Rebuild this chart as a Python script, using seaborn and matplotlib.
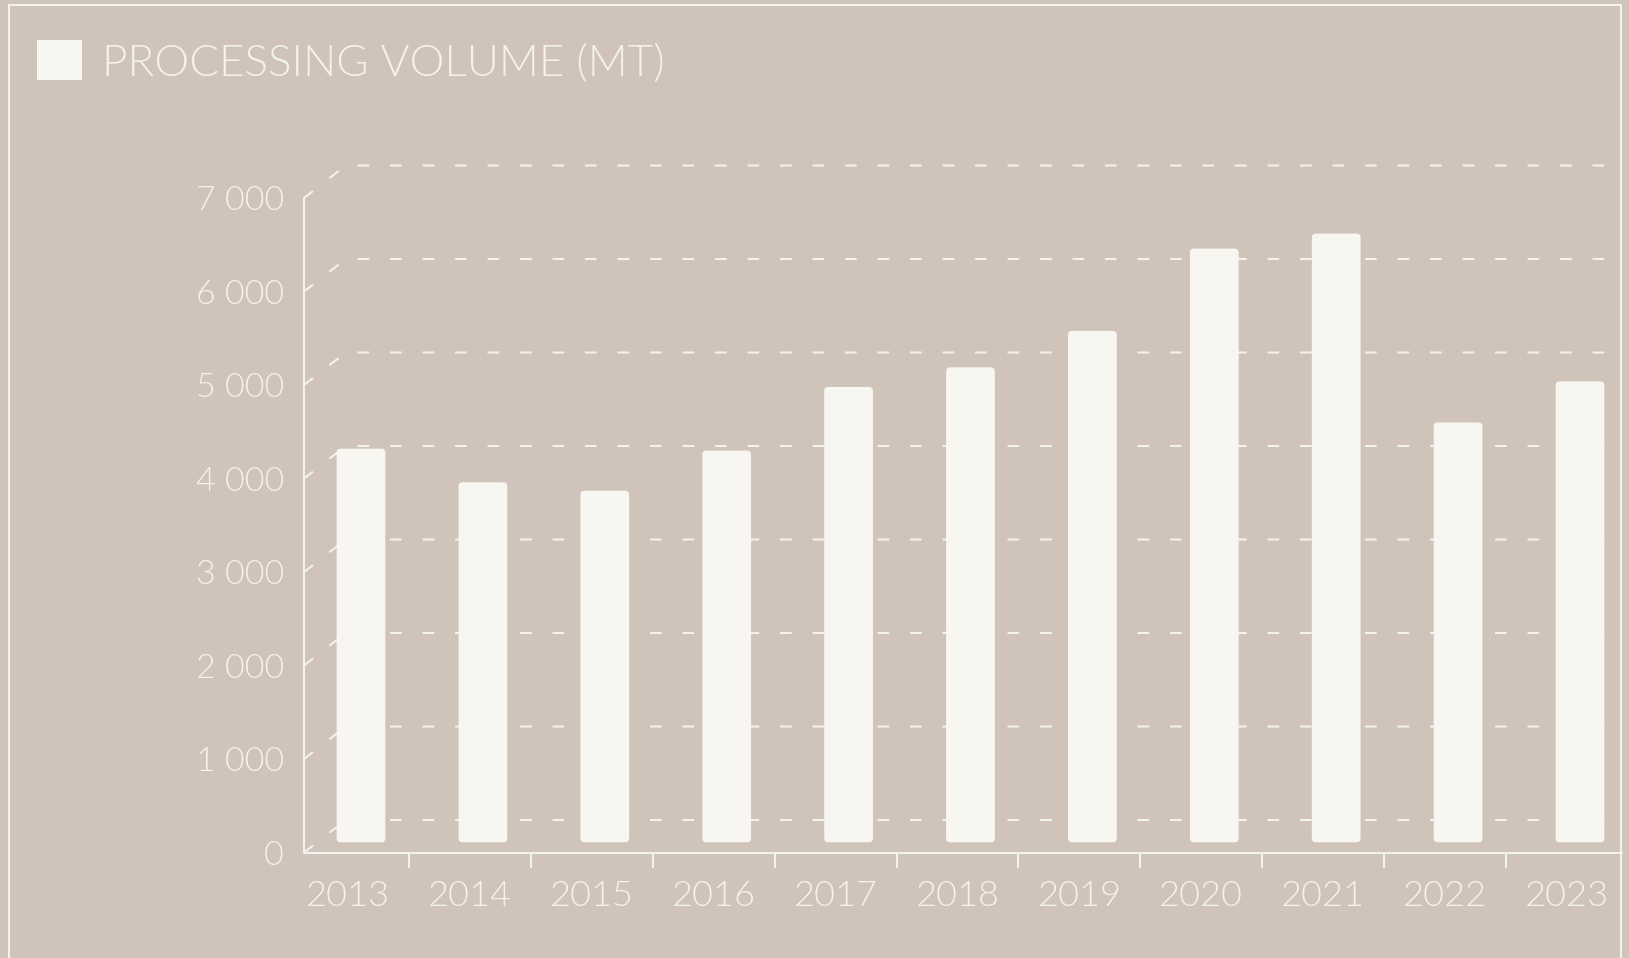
import numpy as np
import seaborn as sns
import matplotlib.pyplot as plt
from matplotlib.patches import FancyBboxPatch, Rectangle, Patch
from matplotlib.ticker import FuncFormatter

# data
years = ['2013', '2014', '2015', '2016', '2017', '2018', '2019', '2020', '2021', '2022', '2023']
volume = [4210, 3850, 3760, 4190, 4870, 5080, 5470, 6350, 6510, 4490, 4930]
yticks = [0, 1000, 2000, 3000, 4000, 5000, 6000, 7000]
series_name = 'PROCESSING VOLUME (MT)'

bg = '#CFC3BA'
fg = '#F4F2EC'
bar_color = '#F7F6F1'

sns.set_theme(style='white')
plt.rcParams['font.family'] = ['Lato', 'DejaVu Sans']
plt.rcParams['font.weight'] = 300

W, H = 1629, 958
fig = plt.figure(figsize=(W / 100, H / 100), dpi=100, facecolor=bg)

# fake 3d geometry, in pixels
px_cat = 121.9      # px per category
px_val = 0.0935     # px per unit of volume
x0_px = 361         # centre of first bar
y0_px = 842.3       # bar baseline, from top
xw, xr = -0.363, 10.45
xback = 9.967
ymax = 7000
front = (-13, -10.4)
back = (29, 22.3)


def place(dx, dy):
    left = x0_px + xw * px_cat + dx
    bottom = H - y0_px + dy
    return [left / W, bottom / H, (xr - xw) * px_cat / W, ymax * px_val / H]


ax = fig.add_axes(place(0, 0))
fa = fig.add_axes(place(*front))

sns.barplot(x=years, y=volume, color=bar_color, width=0.4, errorbar=None,
            saturation=1, ax=ax)
ax.set_xlim(xw, xr)
ax.set_ylim(0, ymax)
ax.set_axis_off()

# rounded bars
asp = px_cat / px_val
r = 4 / px_cat
for p in list(ax.patches):
    fb = FancyBboxPatch((p.get_x(), p.get_y()), p.get_width(), p.get_height(),
                        boxstyle=f'round,pad=0,rounding_size={r}', mutation_aspect=asp,
                        fc=bar_color, ec='none', zorder=3, clip_on=False)
    ax.add_patch(fb)
    p.remove()

# back wall + side wall gridlines
fdx, fdy = front[0] / px_cat, front[1] / px_val
bdx, bdy = back[0] / px_cat, back[1] / px_val
for v in yticks:
    ax.plot([xw + fdx, xw + bdx, xback + bdx], [v + fdy, v + bdy, v + bdy],
            color=fg, lw=1.5, ls=(0, (5.6, 10)), clip_on=False, zorder=1)

# front axes
fa.set_xlim(xw, xr)
fa.set_ylim(0, ymax)
fa.patch.set_visible(False)
for s in ['top', 'right']:
    fa.spines[s].set_visible(False)
for s in ['left', 'bottom']:
    fa.spines[s].set_color(fg)
    fa.spines[s].set_linewidth(1.5)
fa.set_xticks(range(len(years)), years)
fa.set_xticks(np.arange(len(years) - 1) + 0.5, minor=True)
fa.set_yticks(yticks)
fa.yaxis.set_major_formatter(FuncFormatter(lambda v, _: f'{int(v):,}'.replace(',', ' ')))
fa.tick_params(axis='x', which='major', bottom=True, length=0, pad=20, labelsize=26, labelcolor=fg)
fa.tick_params(axis='x', which='minor', bottom=True, length=10.8, width=1.5, color=fg, direction='out')
fa.tick_params(axis='y', left=True, length=0, pad=14.4, labelsize=24.5, labelcolor=fg)

handle = Patch(facecolor=bar_color, edgecolor='none', label=series_name)
leg = fig.legend(handles=[handle], loc='upper left', bbox_to_anchor=(37 / W, 1 - 40 / H),
                 frameon=False, fontsize=31.7, handlelength=1.02, handleheight=1.02,
                 handletextpad=0.46, borderpad=0, borderaxespad=0, labelcolor=fg)

fig.add_artist(Rectangle((8.5 / W, -0.05), (1621 - 8.5) / W, 1.05 - 5 / H,
                         transform=fig.transFigure, fill=False, ec=fg, lw=1.5))

fig.savefig('out.png', dpi=100, facecolor=bg)
